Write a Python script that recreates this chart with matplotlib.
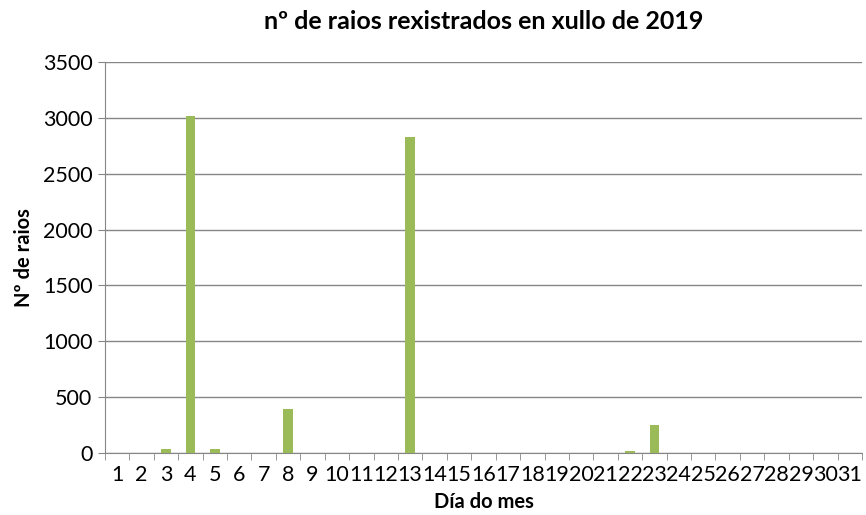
import matplotlib.pyplot as plt
import numpy as np

# Data
days = list(range(1, 32))
raios = [0, 0, 40, 3020, 35, 0, 0, 390, 0, 0,
         0, 0, 2830, 0, 0, 0, 0, 0, 0, 0,
         0, 15, 255, 0, 0, 0, 0, 0, 0, 0, 0]
yticks = [0, 500, 1000, 1500, 2000, 2500, 3000, 3500]

plt.rcParams['font.family'] = ['Lato', 'DejaVu Sans']

fig = plt.figure(figsize=(8.66, 5.15), dpi=100)
ax = fig.add_axes([0.1212, 0.1204, 0.8742, 0.7592])

x = np.arange(len(days))
ax.bar(x, raios, width=0.4, color="#9BBB59", zorder=3)

ax.set_xlim(-0.5, len(days) - 0.5)
ax.set_ylim(0, 3500)
ax.set_yticks(yticks)
ax.set_yticklabels([str(v) for v in yticks], fontsize=15.5)
ax.set_xticks(x)
ax.set_xticklabels([str(d) for d in days], fontsize=15.5)
ax.set_xticks(np.arange(-0.5, len(days)), minor=True)
ax.tick_params(axis="x", which="major", length=0, pad=9)
ax.tick_params(axis="x", which="minor", length=5, color="#868686", direction="out")
ax.tick_params(axis="y", length=5, color="#868686", direction="out", pad=4)

ax.grid(axis="y", color="#868686", linewidth=1, zorder=0)
for s in ["top", "right"]:
    ax.spines[s].set_visible(False)
ax.spines["left"].set_color("#868686")
ax.spines["bottom"].set_color("#868686")

ax.set_title("nº de raios rexistrados en xullo de 2019", fontsize=18, fontweight="bold", pad=24)
ax.set_xlabel("Día do mes", fontsize=14.5, fontweight="bold", labelpad=5)
ax.set_ylabel("Nº de raios", fontsize=14.5, fontweight="bold", labelpad=6)

plt.savefig("out.png", dpi=100)
